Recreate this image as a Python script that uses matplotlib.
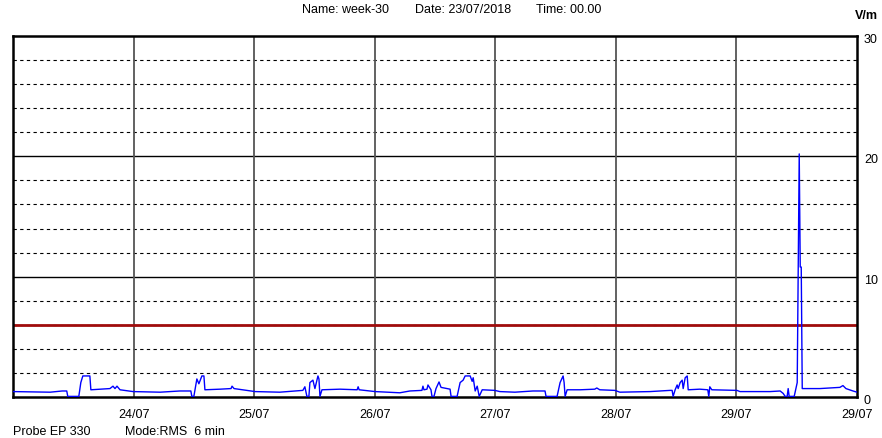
import matplotlib
matplotlib.use("Agg")
import matplotlib.pyplot as plt
from matplotlib.transforms import ScaledTranslation

plt.rcParams["font.family"] = ["Liberation Sans", "DejaVu Sans"]

# Dados: horas desde 23/07/2018 00:00 e campo elétrico (V/m)
horas = [0.0, 7.4, 9.8, 10.7, 10.9, 13.1, 13.5, 13.9, 15.3, 15.5, 17.3, 19.3, 19.9, 20.3, 20.7, 21.3,
         23.9, 29.3, 33.2, 35.4, 35.6, 36.0, 36.6, 37.0, 37.6, 38.0, 38.2, 41.2, 43.4, 43.6, 44.0,
         48.2, 53.1, 57.7, 58.1, 58.5, 58.9, 59.1, 59.7, 60.1, 60.7, 60.9, 61.1, 61.5, 65.1, 68.5,
         68.7, 68.9, 72.1, 77.0, 79.0, 81.4, 81.6, 81.8, 82.4, 82.6, 83.2, 83.4, 83.8, 84.2, 84.8,
         85.2, 87.0, 87.2, 88.4, 89.0, 89.6, 90.0, 91.0, 91.4, 91.6, 92.0, 92.4, 92.8, 93.4, 95.9,
         96.9, 99.9, 103.5, 105.9, 106.1, 108.3, 108.9, 109.5, 109.7, 109.9, 110.3, 112.9, 115.8,
         116.2, 116.8, 119.8, 120.8, 126.8, 130.8, 131.2, 131.4, 131.8, 132.2, 132.4, 132.8, 133.2,
         133.4, 133.8, 134.2, 134.4, 136.7, 138.3, 138.5, 138.7, 139.1, 144.1, 144.7, 150.7, 152.7,
         153.3, 153.7, 154.1, 154.3, 154.5, 155.5, 156.1, 156.5, 156.7, 156.9, 157.1, 160.6, 164.6,
         165.2, 165.8, 167.2, 168.0]
campo = [0.45, 0.40, 0.50, 0.50, 0.05, 0.05, 1.2, 1.75, 1.75, 0.6, 0.65, 0.7, 0.9, 0.7, 0.9, 0.6,
         0.45, 0.40, 0.5, 0.5, 0.05, 0.05, 1.5, 1.1, 1.75, 1.75, 0.6, 0.65, 0.7, 0.9, 0.7,
         0.45, 0.4, 0.55, 0.85, 0.05, 0.05, 1.2, 1.4, 0.7, 1.75, 1.5, 0.05, 0.6, 0.65, 0.6,
         0.85, 0.6, 0.45, 0.35, 0.5, 0.55, 0.9, 0.6, 0.65, 1.0, 0.6, 0.05, 0.05, 0.7, 1.25,
         0.8, 0.65, 0.05, 0.05, 1.2, 1.4, 1.75, 1.75, 1.3, 1.6, 0.5, 0.9, 0.05, 0.6, 0.55,
         0.45, 0.4, 0.5, 0.5, 0.05, 0.05, 1.2, 1.75, 1.2, 0.05, 0.6, 0.6, 0.65,
         0.75, 0.6, 0.55, 0.4, 0.45, 0.55, 0.55, 0.05, 0.6, 1.0, 0.7, 1.2, 1.4,
         0.7, 1.6, 1.75, 0.6, 0.65, 0.6, 0.05, 0.85, 0.6, 0.55, 0.45, 0.45, 0.5,
         0.3, 0.05, 0.05, 0.7, 0.05, 0.05, 1.2, 20.2, 10.8, 10.8, 0.7, 0.7, 0.8,
         0.95, 0.7, 0.5, 0.4]

limite = 6
dias_pos = [24, 48, 72, 96, 120, 144, 168]
dias_lbl = ["24/07", "25/07", "26/07", "27/07", "28/07", "29/07", "29/07"]
y_ticks = [0, 10, 20, 30]

fig = plt.figure(figsize=(8.82, 4.39), dpi=100)
ax = fig.add_axes([13 / 882, 1 - 398 / 439, 844 / 882, 361 / 439])
ax.set_xlim(0, 168)
ax.set_ylim(0, 30)

# Grade
for v in range(2, 30, 2):
    if v % 10 == 0:
        ax.axhline(v, color="black", lw=1.0, zorder=1)
    else:
        ax.axhline(v, color="black", lw=0.8, ls=(0, (3, 3)), zorder=1)
for d in dias_pos[:-1]:
    ax.axvline(d, color="#555555", lw=1.3, zorder=1)

ax.axhline(limite, color="#a00c0c", lw=2.0, zorder=2)
ax.plot(horas, campo, color="#0000ff", lw=1.0, zorder=3)

for s in ax.spines.values():
    s.set_linewidth(1.8)
    s.set_color("black")

ax.set_xticks(dias_pos)
ax.set_xticklabels(dias_lbl)
ax.set_yticks(y_ticks)
ax.yaxis.tick_right()
ax.tick_params(axis="both", length=0, labelsize=9, colors="black")
ax.tick_params(axis="x", pad=8)
ax.tick_params(axis="y", pad=5)
desloc = ScaledTranslation(0, -3 / 100, fig.dpi_scale_trans)
for lbl in ax.get_yticklabels():
    lbl.set_verticalalignment("center")
    lbl.set_transform(lbl.get_transform() + desloc)

fig.text(866 / 882, 1 - 16 / 439, "V/m", ha="center", va="center", fontsize=9, fontweight="bold")
fig.text(346 / 882, 1 - 10 / 439, "Name: week-30", ha="center", va="center", fontsize=9)
fig.text(463 / 882, 1 - 10 / 439, "Date: 23/07/2018", ha="center", va="center", fontsize=9)
fig.text(569 / 882, 1 - 10 / 439, "Time: 00.00", ha="center", va="center", fontsize=9)
fig.text(13 / 882, 1 - 432 / 439, "Probe EP 330", ha="left", va="center", fontsize=9)
fig.text(125 / 882, 1 - 432 / 439, "Mode:RMS  6 min", ha="left", va="center", fontsize=9)

plt.savefig("out.png", dpi=100)
